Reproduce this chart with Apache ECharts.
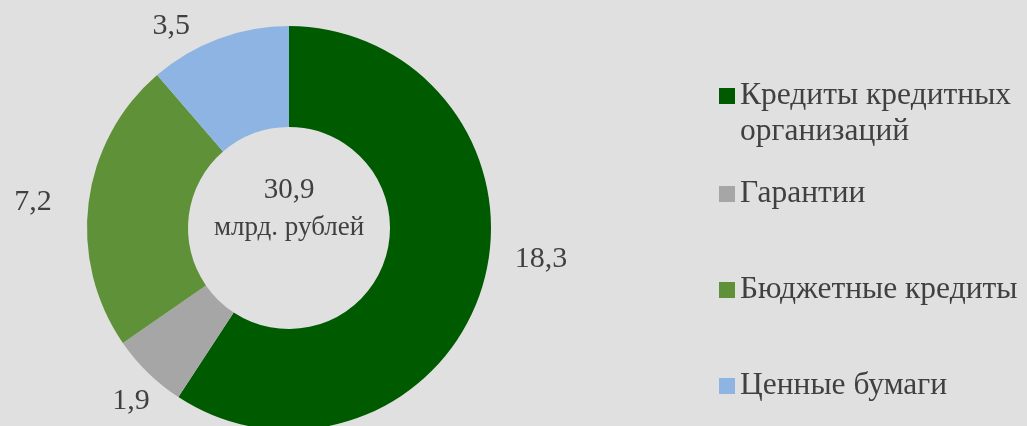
<!DOCTYPE html>
<html>
<head>
<meta charset="utf-8">
<style>
  html, body { margin: 0; padding: 0; background: #e0e0e0; }
  #chart { width: 1027px; height: 426px; }
</style>
<script src="https://cdn.jsdelivr.net/npm/echarts@6/dist/echarts.min.js"></script>
</head>
<body>
<div id="chart"></div>
<script>
var categories = ['Кредиты кредитных организаций', 'Гарантии', 'Бюджетные кредиты', 'Ценные бумаги']
var values = [18.3, 1.9, 7.2, 3.5]
var colors = ['#005a00', '#a6a6a6', '#5e9138', '#8eb4e3']
var totalLabel = '30,9'
var unitLabel = 'млрд. рублей'

var font = '"Liberation Serif", "Times New Roman", serif'
// сдвиги подписей относительно стандартного размещения
var labelShift = [[6, -33], [22, 13], [-10, 3], [-16, 8]]

var myChart = echarts.init(document.getElementById('chart'))

// top считается по верху текста, он выше значка примерно на 8px
var legendTops = [80, 178, 274, 370]
var legends = categories.map(function (name, i) {
  return {
    orient: 'vertical',
    left: 719,
    top: legendTops[i],
    padding: 0,
    icon: 'rect',
    itemWidth: 16,
    itemHeight: 16,
    selectedMode: false,
    data: [name],
    // первая подпись переносится вручную (вторая строка — graphic)
    formatter: i === 0 ? function () { return 'Кредиты кредитных' } : '{name}',
    textStyle: { fontFamily: font, fontSize: 31.5, color: '#404040' }
  }
})

var option = {
  backgroundColor: '#e0e0e0',
  animation: false,
  legend: legends,
  graphic: [
    { type: 'text', x: 740, y: 132, style: { text: 'организаций', font: '31.5px ' + font, fill: '#404040', verticalAlign: 'middle' } },
    { type: 'text', x: 289, y: 190, style: { text: totalLabel, font: '29px ' + font, fill: '#404040', align: 'center', verticalAlign: 'middle' } },
    { type: 'text', x: 289, y: 228, style: { text: unitLabel, font: '27px ' + font, fill: '#404040', align: 'center', verticalAlign: 'middle' } }
  ],
  series: [
    {
      type: 'pie',
      center: [289, 228],
      radius: [101, 202],
      startAngle: 90,
      clockwise: true,
      label: {
        show: true,
        position: 'outside',
        formatter: function (p) { return String(p.value).replace('.', ',') },
        fontFamily: font,
        fontSize: 30,
        color: '#404040'
      },
      labelLine: { show: false, length: 22, length2: 0 },
      labelLayout: function (params) {
        var s = labelShift[params.dataIndex]
        return { dx: s[0], dy: s[1] }
      },
      itemStyle: { borderWidth: 0 },
      emphasis: { disabled: true },
      data: categories.map(function (name, i) {
        return { name: name, value: values[i], itemStyle: { color: colors[i] } }
      })
    }
  ]
}
myChart.setOption(option)
</script>
</body>
</html>
